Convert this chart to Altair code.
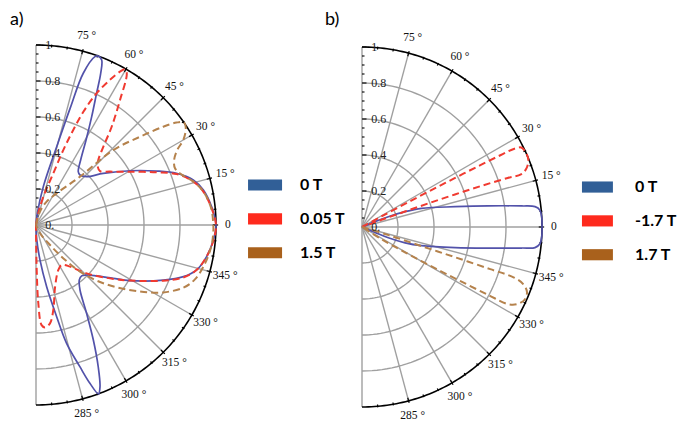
import altair as alt
import pandas as pd

# ---------------- data ----------------
# Panel a): angle (deg) and radius of each curve, in drawing order
A_BLUE_THETA = [90, 83.5, 79.2, 75.2, 73.7, 72.7, 70.7, 69.8, 68.3, 66.9, 65.3, 62.8, 59.5, 55.5,
                51.6, 48.7, 43.7, 37.5, 30.0, 24.1, 20.2, 16.0, 11.8, 5.9, 0, -4.8, -10.5, -15.6,
                -19.3, -23.4, -30.6, -34.6, -40.0, -44.7, -48.1, -51.8, -55.9, -60.2, -63.5, -66.3,
                -68.4, -69.7, -71.2, -72.8, -75.5, -77.3, -80.2, -83.5, -87, -90]
A_BLUE_R = [0, 0.065, 0.217, 0.450, 0.675, 0.883, 0.991, 1.0, 0.987, 0.916, 0.805, 0.677, 0.548, 0.438,
            0.378, 0.370, 0.389, 0.471, 0.603, 0.734, 0.832, 0.909, 0.950, 0.981, 1.0, 0.989, 0.964, 0.927,
            0.868, 0.771, 0.607, 0.522, 0.440, 0.395, 0.380, 0.389, 0.436, 0.566, 0.714, 0.860,
            0.966, 1.0, 0.929, 0.824, 0.679, 0.522, 0.348, 0.195, 0.083, 0]

A_RED_THETA = [90, 79, 75.5, 71.5, 70.0, 68.6, 67.3, 65.3, 63.0, 61.3, 60.3, 59.1, 56.1, 52.4, 49.3,
               46.2, 43.4, 40.1, 35.8, 29.6, 23.6, 19.9, 15.4, 11.3, 5.4, 0, -4.8, -10.5, -15.6, -19.6,
               -23.6, -30.6, -34.9, -43.7, -50.7, -57.2, -63.6, -72.8, -78.5, -81.9, -85.0, -86.8,
               -88.3, -89.1, -89.6, -90]
A_RED_R = [0, 0.066, 0.163, 0.303, 0.443, 0.567, 0.682, 0.805, 0.905, 0.971, 0.996, 0.982, 0.837, 0.689,
           0.574, 0.500, 0.472, 0.465, 0.507, 0.600, 0.731, 0.831, 0.907, 0.948, 0.980, 1.0, 0.99, 0.964,
           0.927, 0.869, 0.772, 0.607, 0.524, 0.389, 0.299, 0.264, 0.279, 0.359, 0.482, 0.552, 0.571,
           0.557, 0.435, 0.25, 0.083, 0]

A_BROWN_THETA = [90, 73.4, 65.6, 56.9, 47.7, 44.1, 40.3, 37.7, 36.1, 34.7, 32.8, 30.0, 28.0, 25.2, 22.2,
                 19.7, 15.4, 11.3, 5.4, 0, -1.6, -6.5, -12.8, -18.9, -23.0, -27.9, -32.6, -37.7, -42.5,
                 -46.7, -50.6, -54.9, -64.4, -90]
A_BROWN_R = [0, 0.077, 0.143, 0.210, 0.363, 0.599, 0.758, 0.893, 0.966, 1.0, 0.99, 0.945, 0.889, 0.848,
             0.834, 0.850, 0.907, 0.948, 0.978, 0.985, 0.986, 0.982, 0.963, 0.933, 0.890, 0.800, 0.686,
             0.566, 0.457, 0.356, 0.240, 0.136, 0.051, 0]

# Panel b)
B_BLUE_THETA = [90, 22.6, 21.3, 19.6, 17.4, 12.3, 9.5, 7.5, 6.7, 5.4, 2.9, 0, -2.9, -5.4, -6.8, -7.5,
                -9.5, -12.5, -17.4, -20.2, -22.3, -22.6, -90]
B_BLUE_R = [0, 0.078, 0.157, 0.254, 0.347, 0.529, 0.712, 0.895, 0.968, 0.993, 1.0, 1.0, 1.0, 0.993,
            0.968, 0.895, 0.712, 0.530, 0.347, 0.255, 0.158, 0.078, 0]

B_RED_THETA = [90, 28.5, 28.3, 28.0, 27.8, 27.6, 27.4, 27.2, 26.5, 24.6, 21.9, 19.5, 18.3, 18.6, 19.0,
               19.3, 19.6, 19.8, 20.2, -90]
B_RED_R = [0, 0.123, 0.268, 0.414, 0.579, 0.745, 0.869, 0.952, 0.989, 1.0, 0.996, 0.968, 0.930, 0.854,
           0.702, 0.547, 0.392, 0.254, 0.116, 0]

B_BROWN_THETA = [90, -17.0, -17.8, -18.0, -18.2, -18.4, -19.5, -21.5, -24.0, -26.3, -27.8, -28.3, -28.8,
                 -29.5, -30.5, -32.0, -90]
B_BROWN_R = [0, 0.15, 0.35, 0.55, 0.75, 0.89, 0.95, 0.985, 0.99, 0.965, 0.92, 0.80, 0.62, 0.45, 0.28,
             0.12, 0]

SERIES_A = ["0 T", "0.05 T", "1.5 T"]
SERIES_B = ["0 T", "-1.7 T", "1.7 T"]

GRID_R = [0.2, 0.4, 0.6, 0.8]
SPOKE_ANGLES = list(range(-90, 91, 15))
ARC_TICK_ANGLES = list(range(-85, 90, 5))
AXIS_TICKS = [round(0.05 * k, 2) for k in range(1, 21)]
ANGLE_TICKS = [75, 60, 45, 30, 15, 0, -15, -30, -45, -60, -75]
ANGLE_LABELS = ["75 °", "60 °", "45 °", "30 °", "15 °", "0", "345 °", "330 °", "315 °", "300 °", "285 °"]
RADIAL_VALUES = [0, 0.2, 0.4, 0.6, 0.8, 1.0]
RADIAL_LABELS = ["0.", "0.2", "0.4", "0.6", "0.8", "1"]

LINE_COLORS = ["#5252AA", "#F03A30", "#B5824C"]
SWATCH_COLORS = ["#315F97", "#FE2A1D", "#A9611C"]

SERIF = "Liberation Serif"
SANS = "Lato"

XC = "datum.r * cos(datum.theta * PI / 180)"
YC = "datum.r * sin(datum.theta * PI / 180)"


def panel(tag, curves, labels, xdom, ydom, width, height, leg):
    def X(f):
        return alt.X(f"{f}:Q", scale=alt.Scale(domain=xdom, nice=False, zero=False), axis=None)

    def Y(f):
        return alt.Y(f"{f}:Q", scale=alt.Scale(domain=ydom, nice=False, zero=False), axis=None)

    layers = []

    # grid rings
    ring_df = pd.DataFrame([{"ring": g, "theta": t, "r": g} for g in GRID_R for t in range(-90, 91, 2)])
    layers.append(
        alt.Chart(ring_df).transform_calculate(x=XC, y=YC)
        .mark_line(color="#A0A0A0", strokeWidth=1.4)
        .encode(x=X("x"), y=Y("y"), detail="ring:N", order="theta:Q")
    )
    # spokes
    spoke_df = pd.DataFrame({"theta": SPOKE_ANGLES})
    layers.append(
        alt.Chart(spoke_df).transform_calculate(x0="0", y0="0", x1="cos(datum.theta * PI / 180)",
                                                y1="sin(datum.theta * PI / 180)")
        .mark_rule(color="#A0A0A0", strokeWidth=1.4)
        .encode(x=X("x0"), y=Y("y0"), x2=alt.X2("x1:Q"), y2=alt.Y2("y1:Q"))
    )
    # outer arc
    arc_df = pd.DataFrame({"theta": list(range(-90, 91, 1)), "r": 1.0})
    layers.append(
        alt.Chart(arc_df).transform_calculate(x=XC, y=YC)
        .mark_line(color="black", strokeWidth=1.6)
        .encode(x=X("x"), y=Y("y"), order="theta:Q")
    )
    # arc ticks
    at_df = pd.DataFrame({"theta": ARC_TICK_ANGLES})
    layers.append(
        alt.Chart(at_df).transform_calculate(
            ri="datum.theta % 15 == 0 ? 0.982 : 0.99",
            ro="datum.theta % 15 == 0 ? 1.012 : 1.006",
            x0="datum.ri * cos(datum.theta * PI / 180)", y0="datum.ri * sin(datum.theta * PI / 180)",
            x1="datum.ro * cos(datum.theta * PI / 180)", y1="datum.ro * sin(datum.theta * PI / 180)")
        .mark_rule(color="black", strokeWidth=1.2)
        .encode(x=X("x0"), y=Y("y0"), x2=alt.X2("x1:Q"), y2=alt.Y2("y1:Q"))
    )
    # left axis ticks
    ax_df = pd.DataFrame({"v": AXIS_TICKS})
    layers.append(
        alt.Chart(ax_df).transform_calculate(
            x0="0", x1="(round(datum.v * 100) % 20 == 0) ? 0.025 : 0.014")
        .mark_rule(color="black", strokeWidth=1.1)
        .encode(x=X("x0"), x2=alt.X2("x1:Q"), y=Y("v"))
    )
    # curves
    styles = [dict(strokeWidth=1.7), dict(strokeWidth=2.0, strokeDash=[7, 4]),
              dict(strokeWidth=2.0, strokeDash=[7, 4])]
    for (th, rr), col, st in zip(curves, LINE_COLORS, styles):
        cdf = pd.DataFrame({"theta": th, "r": rr, "i": list(range(len(th)))})
        layers.append(
            alt.Chart(cdf).transform_calculate(x=XC, y=YC)
            .mark_line(color=col, interpolate="catmull-rom", **st)
            .encode(x=X("x"), y=Y("y"), order="i:Q")
        )
    # radial labels
    rl_df = pd.DataFrame({"v": RADIAL_VALUES, "txt": RADIAL_LABELS})
    layers.append(
        alt.Chart(rl_df).transform_calculate(x0="0.052")
        .mark_text(align="left", baseline="middle", font=SERIF, fontSize=12, color="#222222")
        .encode(x=X("x0"), y=Y("v"), text="txt:N")
    )
    # angle labels
    al_df = pd.DataFrame({"theta": ANGLE_TICKS, "txt": ANGLE_LABELS})
    layers.append(
        alt.Chart(al_df).transform_calculate(
            r="datum.theta == 0 ? 1.066 : 1.088", x=XC, y=YC)
        .mark_text(align="center", baseline="middle", font=SERIF, fontSize=11.5, color="#111111")
        .encode(x=X("x"), y=Y("y"), text="txt:N")
    )
    # legend
    x_a, x_b, x_t = leg
    lg_df = pd.DataFrame({"label": labels, "k": [0, 1, 2]})
    lg_base = alt.Chart(lg_df).transform_calculate(
        yc="0.222 - datum.k * 0.188", ya="datum.yc + 0.031", yb="datum.yc - 0.031",
        xa=str(x_a), xb=str(x_b), xt=str(x_t))
    layers.append(
        lg_base.mark_rect().encode(
            x=X("xa"), x2=alt.X2("xb:Q"), y=Y("ya"), y2=alt.Y2("yb:Q"),
            color=alt.Color("label:N", scale=alt.Scale(domain=labels, range=SWATCH_COLORS), legend=None))
    )
    layers.append(
        lg_base.mark_text(align="left", baseline="middle", font=SANS, fontSize=16, fontWeight="bold",
                          color="black")
        .encode(x=X("xt"), y=Y("yc"), text="label:N")
    )
    # panel tag
    tg_df = pd.DataFrame({"tag": [tag]})
    layers.append(
        alt.Chart(tg_df).transform_calculate(x0=str(xdom[0] + 2 / 180), y0=str(ydom[1] - 12 / 180))
        .mark_text(align="left", baseline="middle", font=SANS, fontSize=18, color="black")
        .encode(x=X("x0"), y=Y("y0"), text="tag:N")
    )
    return alt.layer(*layers).properties(width=width, height=height)


R = 180.0
H = 408
WA, WB = 315, 354
# panel a: centre at page (36, 225); panel b: centre at page (362, 227)
ca_x, ca_y = 36 - 8, 225 - 8
cb_x, cb_y = 362 - 323, 227 - 8
xdom_a = [-ca_x / R, (WA - ca_x) / R]
ydom_a = [-(H - ca_y) / R, ca_y / R]
xdom_b = [-cb_x / R, (WB - cb_x) / R]
ydom_b = [-(H - cb_y) / R, cb_y / R]

pa = panel("a)", [(A_BLUE_THETA, A_BLUE_R), (A_RED_THETA, A_RED_R), (A_BROWN_THETA, A_BROWN_R)],
           SERIES_A, xdom_a, ydom_a, WA, H, (1.178, 1.367, 1.467))
pb = panel("b)", [(B_BLUE_THETA, B_BLUE_R), (B_RED_THETA, B_RED_R), (B_BROWN_THETA, B_BROWN_R)],
           SERIES_B, xdom_b, ydom_b, WB, H, (1.222, 1.394, 1.517))

chart = (
    alt.hconcat(pa, pb, spacing=0, bounds="flush",
                padding={"left": 0, "right": 0, "top": 0, "bottom": 0})
    .resolve_scale(color="independent")
    .configure_view(stroke=None)
)

chart.save("out.html", embed_options={"renderer": "svg", "actions": False})
